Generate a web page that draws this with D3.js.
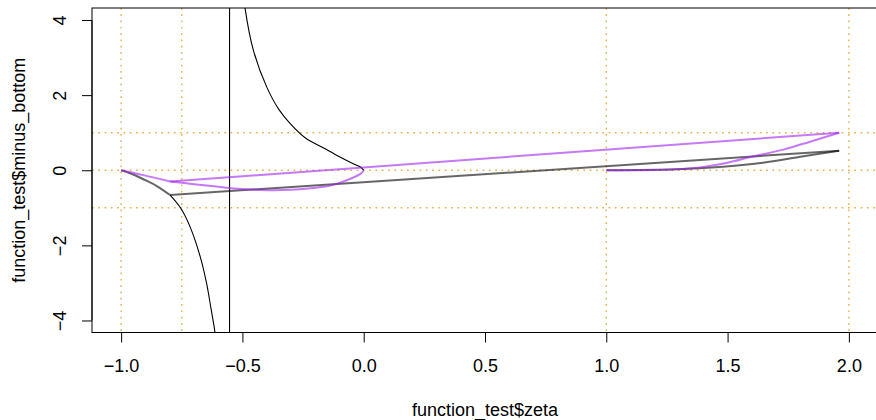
<!DOCTYPE html>
<html>
<head>
<meta charset="utf-8">
<script src="https://cdn.jsdelivr.net/npm/d3@7"></script>
<style>
  html, body { margin: 0; padding: 0; background: #fff; }
  svg { display: block; }
  text { font-family: "Liberation Sans", Arial, Helvetica, sans-serif; }
</style>
</head>
<body>
<svg id="chart" width="876" height="420"></svg>
<script>
// ---------- data ----------
const xTicks = [-1.0, -0.5, 0.0, 0.5, 1.0, 1.5, 2.0];
const yTicks = [-4, -2, 0, 2, 4];
const xLabel = "function_test$zeta";
const yLabel = "function_test$minus_bottom";
const vGrid = [-1, -0.75, 1, 2];
const hGrid = [-1, 0, 1];

// grey series (zeta, minus_bottom)
const greyLeft  = [[-1, 0], [-0.963, -0.08], [-0.908, -0.24], [-0.853, -0.42], [-0.798, -0.66]];
const greyJump  = [[-0.798, -0.66], [1.96, 0.52]];
const greyRight = [[1.96, 0.52], [1.80, 0.36], [1.646, 0.20], [1.482, 0.095], [1.29, 0.025], [1.0, 0]];

// purple series
const purpleLeft  = [[-1, 0], [-0.908, -0.13], [-0.798, -0.30]];
const purpleJump  = [[-0.798, -0.30], [1.96, 1.0]];
const purpleRight = [[1.96, 1.0], [1.84, 0.76], [1.73, 0.55], [1.60, 0.36], [1.50, 0.20], [1.40, 0.09], [1.30, 0.03], [1.20, 0.005], [1.0, 0]];
const purpleLoop  = [[-0.798, -0.30], [-0.70, -0.37], [-0.60, -0.44], [-0.50, -0.50], [-0.40, -0.53], [-0.30, -0.52], [-0.166, -0.44], [-0.125, -0.39], [-0.045, -0.2], [-0.012, -0.09], [0, 0]];

// black series
const asymptote  = -0.553;
const blackLower = [[-0.798, -0.66], [-0.754, -1.01], [-0.716, -1.5], [-0.674, -2.3], [-0.648, -3.0], [-0.629, -3.7], [-0.613, -4.32], [-0.603, -5], [-0.592, -6], [-0.578, -8], [-0.566, -12], [-0.559, -20], [asymptote, -60]];
const blackJump  = [[asymptote, -60], [asymptote, 60]];
const blackUpper = [[asymptote, 60], [-0.546, 20], [-0.538, 12], [-0.527, 8], [-0.512, 6], [-0.50, 5], [-0.489, 4.31], [-0.455, 3.2], [-0.40, 2.22], [-0.35, 1.62], [-0.304, 1.25], [-0.24, 0.86], [-0.167, 0.60], [-0.10, 0.36], [-0.045, 0.18], [-0.012, 0.08], [0, 0]];

// ---------- drawing ----------
const W = 876, H = 420;
const plot = { left: 92, right: 878, top: 8, bottom: 332.5 };
const xDomain = [-1, 2], yDomain = [-4, 4];
const xPad = (xDomain[1] - xDomain[0]) * 0.04, yPad = (yDomain[1] - yDomain[0]) * 0.04;
const FS = 18;

const x = d3.scaleLinear().domain([xDomain[0] - xPad, xDomain[1] + xPad]).range([plot.left, plot.right]);
const y = d3.scaleLinear().domain([yDomain[0] - yPad, yDomain[1] + yPad]).range([plot.bottom, plot.top]);

const svg = d3.select("#chart");
svg.append("rect").attr("width", W).attr("height", H).attr("fill", "#fff");

svg.append("clipPath").attr("id", "clip")
  .append("rect")
  .attr("x", plot.left).attr("y", plot.top)
  .attr("width", plot.right - plot.left).attr("height", plot.bottom - plot.top);

const gPlot = svg.append("g").attr("clip-path", "url(#clip)");

// dotted reference lines
const gridColor = "#E3A935";
gPlot.selectAll("line.vg").data(vGrid).join("line")
  .attr("x1", d => x(d)).attr("x2", d => x(d))
  .attr("y1", plot.top).attr("y2", plot.bottom)
  .attr("stroke", gridColor).attr("stroke-width", 1.4).attr("stroke-dasharray", "1.7,4.6").attr("opacity", 0.9);
gPlot.selectAll("line.hg").data(hGrid).join("line")
  .attr("y1", d => y(d)).attr("y2", d => y(d))
  .attr("x1", plot.left).attr("x2", plot.right)
  .attr("stroke", gridColor).attr("stroke-width", 1.4).attr("stroke-dasharray", "1.7,4.6").attr("opacity", 0.9);

const smooth = d3.line().x(d => x(d[0])).y(d => y(d[1])).curve(d3.curveCatmullRom.alpha(0.5));
const straight = d3.line().x(d => x(d[0])).y(d => y(d[1]));

const pieces = [
  { data: blackLower, gen: smooth,   color: "#000", width: 1.1, op: 1 },
  { data: blackJump,  gen: straight, color: "#000", width: 1.1, op: 1 },
  { data: blackUpper, gen: smooth,   color: "#000", width: 1.1, op: 1 },
  { data: greyLeft,   gen: smooth,   color: "#000", width: 2, op: 0.6 },
  { data: greyJump,   gen: straight, color: "#000", width: 2, op: 0.6 },
  { data: greyRight,  gen: smooth,   color: "#000", width: 2, op: 0.6 },
  { data: purpleLeft, gen: smooth,   color: "#A020F0", width: 2, op: 0.6 },
  { data: purpleJump, gen: straight, color: "#A020F0", width: 2, op: 0.6 },
  { data: purpleRight,gen: smooth,   color: "#A020F0", width: 2, op: 0.6 },
  { data: purpleLoop, gen: smooth,   color: "#A020F0", width: 2, op: 0.6 }
];
gPlot.selectAll("path.s").data(pieces).join("path")
  .attr("d", d => d.gen(d.data))
  .attr("fill", "none")
  .attr("stroke", d => d.color)
  .attr("stroke-opacity", d => d.op)
  .attr("stroke-width", d => d.width)
  .attr("stroke-linejoin", "round");

// box
svg.append("rect")
  .attr("x", plot.left).attr("y", plot.top)
  .attr("width", plot.right - plot.left).attr("height", plot.bottom - plot.top)
  .attr("fill", "none").attr("stroke", "#000").attr("stroke-width", 1);

const fmtMinus = s => s.replace("-", "\u2212");

// x axis
const xAxis = d3.axisBottom(x).tickValues(xTicks).tickSize(10).tickPadding(17)
  .tickFormat(d => fmtMinus(d3.format(".1f")(d)));
const gx = svg.append("g").attr("transform", `translate(0,${plot.bottom})`).call(xAxis);
gx.select(".domain").attr("d", `M${x(xTicks[0])},0H${x(xTicks[xTicks.length - 1])}`).attr("stroke", "#000");
gx.selectAll(".tick line").attr("stroke", "#000");
gx.selectAll("text").attr("font-size", FS).attr("fill", "#000")
  .attr("font-family", "'Liberation Sans', Arial, sans-serif");

// y axis
const yAxis = d3.axisLeft(y).tickValues(yTicks).tickSize(10).tickPadding(0)
  .tickFormat(d => fmtMinus(String(d)));
const gy = svg.append("g").attr("transform", `translate(${plot.left},0)`).call(yAxis);
gy.select(".domain").attr("d", `M0,${y(yTicks[0])}V${y(yTicks[yTicks.length - 1])}`).attr("stroke", "#000");
gy.selectAll(".tick line").attr("stroke", "#000");
gy.selectAll("text")
  .attr("font-size", FS).attr("fill", "#000")
  .attr("font-family", "'Liberation Sans', Arial, sans-serif")
  .attr("x", null).attr("dy", null)
  .attr("text-anchor", "middle")
  .attr("transform", "translate(-26,0) rotate(-90)")
  .attr("y", 0);

// axis titles
svg.append("text")
  .attr("x", (x(xDomain[0]) + x(xDomain[1])) / 2).attr("y", 416)
  .attr("text-anchor", "middle").attr("font-size", FS).attr("fill", "#000")
  .text(xLabel);
svg.append("text")
  .attr("transform", `translate(24.5,${(plot.top + plot.bottom) / 2}) rotate(-90)`)
  .attr("text-anchor", "middle").attr("font-size", FS).attr("fill", "#000")
  .text(yLabel);
</script>
</body>
</html>
